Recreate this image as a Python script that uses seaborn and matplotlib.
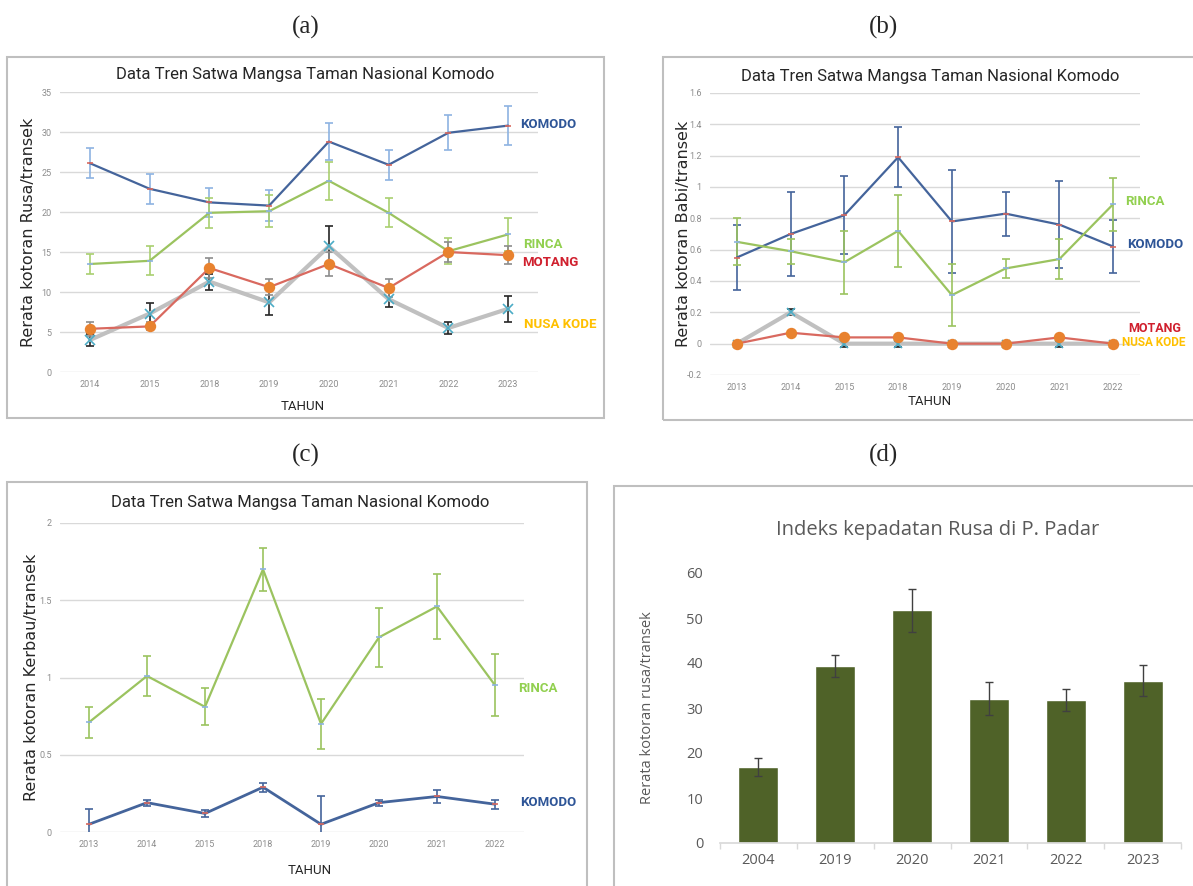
import seaborn as sns
import matplotlib.pyplot as plt
import matplotlib.patches as mpatches
import numpy as np
import pandas as pd

# ---- data ----
years_a = ["2014", "2015", "2018", "2019", "2020", "2021", "2022", "2023"]
komodo_a = [26.1, 22.9, 21.2, 20.8, 28.8, 25.9, 29.9, 30.8]
komodo_a_err = [1.9, 1.9, 1.8, 1.9, 2.3, 1.9, 2.2, 2.4]
rinca_a = [13.5, 13.9, 19.9, 20.1, 23.9, 19.9, 15.1, 17.2]
rinca_a_err = [1.2, 1.8, 1.9, 2.0, 2.4, 1.8, 1.6, 2.1]
motang_a = [5.4, 5.7, 13.0, 10.6, 13.5, 10.5, 15.0, 14.6]
motang_a_err = [0.9, 0.5, 1.2, 1.0, 1.5, 1.1, 1.3, 1.1]
nusakode_a = [4.0, 7.3, 11.3, 8.7, 15.7, 9.1, 5.5, 7.9]
nusakode_a_err = [0.7, 1.3, 1.0, 1.6, 2.6, 1.0, 0.8, 1.6]

years_b = ["2013", "2014", "2015", "2018", "2019", "2020", "2021", "2022"]
komodo_b = [0.55, 0.70, 0.82, 1.19, 0.78, 0.83, 0.76, 0.62]
komodo_b_err = [0.21, 0.27, 0.25, 0.19, 0.33, 0.14, 0.28, 0.17]
rinca_b = [0.65, 0.59, 0.52, 0.72, 0.31, 0.48, 0.54, 0.89]
rinca_b_err = [0.15, 0.08, 0.20, 0.23, 0.20, 0.06, 0.13, 0.17]
motang_b = [0.0, 0.07, 0.04, 0.04, 0.0, 0.0, 0.04, 0.0]
motang_b_err = [0.01, 0.01, 0.01, 0.01, 0.01, 0.01, 0.01, 0.01]
nusakode_b = [0.0, 0.20, 0.0, 0.0, 0.0, 0.0, 0.0, 0.0]
nusakode_b_err = [0.02, 0.02, 0.02, 0.02, 0.02, 0.02, 0.02, 0.02]

years_c = ["2013", "2014", "2015", "2018", "2019", "2020", "2021", "2022"]
rinca_c = [0.71, 1.01, 0.81, 1.70, 0.70, 1.26, 1.46, 0.95]
rinca_c_err = [0.10, 0.13, 0.12, 0.14, 0.16, 0.19, 0.21, 0.20]
komodo_c = [0.05, 0.19, 0.12, 0.29, 0.05, 0.19, 0.23, 0.18]
komodo_c_err = [0.10, 0.02, 0.02, 0.03, 0.18, 0.02, 0.04, 0.03]

years_d = ["2004", "2019", "2020", "2021", "2022", "2023"]
padar_d = [16.9, 39.3, 51.7, 32.1, 31.8, 36.1]
padar_d_err = [2.0, 2.5, 4.8, 3.6, 2.4, 3.5]

sns.set_theme(style="white")
plt.rcParams["font.family"] = ["Roboto", "DejaVu Sans"]

W, H = 1193, 886
fig = plt.figure(figsize=(W / 100, H / 100), dpi=100)


def px_axes(x0, y_top, x1, y_bot):
    return fig.add_axes([x0 / W, 1 - y_bot / H, (x1 - x0) / W, (y_bot - y_top) / H])


def frame(x0, y0, x1, y1):
    fig.patches.append(mpatches.Rectangle((x0 / W, 1 - y1 / H), (x1 - x0) / W, (y1 - y0) / H,
                                          transform=fig.transFigure, fill=False,
                                          edgecolor="#bfbfbf", lw=1.5))


def style_line_axes(ax, ylim, yticks, ylabel, ylfs=11.5):
    ax.set_ylim(*ylim)
    ax.set_xlim(-0.5, 7.5)
    ax.set_yticks(yticks)
    ax.set_yticklabels([f"{t:g}" for t in yticks])
    ax.grid(axis="y", color="#d9d9d9", lw=1)
    ax.grid(axis="x", visible=False)
    for s in ax.spines.values():
        s.set_visible(False)
    ax.tick_params(axis="both", labelsize=6.5, labelcolor="#8c8c8c", length=0, pad=6)
    ax.set_xlabel("")
    ax.set_ylabel(ylabel, fontsize=ylfs, family=["DejaVu Sans"], color="#262626")


def series(ax, years, vals, errs, lc, ec, marker, mc, ms, lw=1.6, mew=1.2, z=2):
    x = np.arange(len(years))
    ax.errorbar(x, vals, yerr=errs, fmt="none", ecolor=ec, elinewidth=1.2, capsize=3,
                capthick=1.2, zorder=z)
    sns.lineplot(x=x, y=vals, ax=ax, color=lc, lw=lw, marker=marker, markersize=ms,
                 markerfacecolor=mc, markeredgecolor=mc, markeredgewidth=mew, zorder=z + 0.5)


# ---- (a) ----
frame(7, 57, 604, 418)
ax = px_axes(60, 92, 538, 372)
series(ax, years_a, komodo_a, komodo_a_err, "#44649b", "#8db3e2", "_", "#d9695f", 5)
series(ax, years_a, rinca_a, rinca_a_err, "#9bc35f", "#a9cf6f", "_", "#8db3e2", 5)
series(ax, years_a, nusakode_a, nusakode_a_err, "#c0c0c0", "#262626", "x", "#4bacc6", 7, lw=3)
series(ax, years_a, motang_a, motang_a_err, "#d9695f", "#8c8c8c", "o", "#e8822f", 7)
style_line_axes(ax, (0, 35), [0, 5, 10, 15, 20, 25, 30, 35], "Rerata kotoran Rusa/transek")
ax.set_xticks(range(8))
ax.set_xticklabels(years_a)
ax.yaxis.set_label_coords(-0.05, 0.5)

# ---- (b) ----
frame(663, 57, 1200, 420)
bx = px_axes(710, 93, 1140, 375)
series(bx, years_b, komodo_b, komodo_b_err, "#44649b", "#44649b", "_", "#d9695f", 5)
series(bx, years_b, rinca_b, rinca_b_err, "#9bc35f", "#9bc35f", "_", "#8db3e2", 5)
series(bx, years_b, nusakode_b, nusakode_b_err, "#c0c0c0", "#262626", "x", "#4bacc6", 6, lw=3)
series(bx, years_b, motang_b, motang_b_err, "#d9695f", "#595959", "o", "#e8822f", 7)
style_line_axes(bx, (-0.2, 1.6), [-0.2, 0, 0.2, 0.4, 0.6, 0.8, 1, 1.2, 1.4, 1.6],
                "Rerata kotoran Babi/transek")
bx.set_xticks(range(8))
bx.set_xticklabels(years_b)
bx.yaxis.set_label_coords(-0.045, 0.5)

# ---- (c) ----
frame(7, 482, 587, 900)
cx = px_axes(60, 523, 524, 832)
series(cx, years_c, rinca_c, rinca_c_err, "#9bc35f", "#9bc35f", "_", "#8db3e2", 5)
series(cx, years_c, komodo_c, komodo_c_err, "#44649b", "#44649b", "_", "#d9695f", 5, lw=2)
style_line_axes(cx, (0, 2), [0, 0.5, 1, 1.5, 2], "Rerata kotoran Kerbau/transek")
cx.set_xticks(range(8))
cx.set_xticklabels(years_c)
cx.yaxis.set_label_coords(-0.045, 0.5)

# titles, axis labels and series labels of the line panels
tt = dict(fontsize=12, color="#262626", ha="center", va="center")
fig.text(305 / W, 1 - 75 / H, "Data Tren Satwa Mangsa Taman Nasional Komodo", **tt)
fig.text(930 / W, 1 - 76 / H, "Data Tren Satwa Mangsa Taman Nasional Komodo", **tt)
fig.text(300 / W, 1 - 502 / H, "Data Tren Satwa Mangsa Taman Nasional Komodo", **tt)
xt = dict(fontsize=9.5, color="#262626", ha="center", va="center")
fig.text(303 / W, 1 - 406 / H, "TAHUN", **xt)
fig.text(930 / W, 1 - 401 / H, "TAHUN", **xt)
fig.text(310 / W, 1 - 870 / H, "TAHUN", **xt)

lab = dict(fontweight="bold", ha="left", va="center")
for (x, y, s, c, fs) in [(520, 124, "KOMODO", "#2e5597", 9.5), (523, 245, "RINCA", "#92d050", 9.5),
                         (522, 262, "MOTANG", "#d0202e", 9.5), (524, 324, "NUSA KODE", "#ffc000", 9.5),
                         (1125, 201, "RINCA", "#92d050", 9.5), (1127, 244, "KOMODO", "#2e5597", 9.5),
                         (1128, 328, "MOTANG", "#d0202e", 9), (1122, 343, "NUSA KODE", "#ffc000", 8.5),
                         (518, 689, "RINCA", "#92d050", 9.5), (520, 803, "KOMODO", "#2e5597", 9.5)]:
    fig.text(x / W, 1 - y / H, s, color=c, fontsize=fs, **lab)

# ---- (d) ----
frame(614, 486, 1200, 900)
dx = px_axes(720, 573, 1181, 843)
sns.barplot(x=years_d, y=padar_d, color="#4f6228", saturation=1, width=0.52, ax=dx)
dx.errorbar(np.arange(len(years_d)), padar_d, yerr=padar_d_err, fmt="none",
            ecolor="#404040", elinewidth=1, capsize=3, capthick=1)
dx.set_ylim(0, 60)
dx.set_xlim(-0.5, 5.5)
dx.set_yticks([0, 10, 20, 30, 40, 50, 60])
for s in ["top", "right", "left"]:
    dx.spines[s].set_visible(False)
dx.spines["bottom"].set_color("#d9d9d9")
dx.set_xticks(np.arange(-0.5, 6, 1), minor=True)
dx.tick_params(axis="x", which="major", length=0, pad=7)
dx.tick_params(axis="x", which="minor", length=4, color="#d9d9d9", direction="out", bottom=True)
dx.tick_params(axis="both", labelsize=10.5, labelcolor="#595959")
dx.tick_params(axis="y", length=0, pad=12)
for t in dx.get_xticklabels() + dx.get_yticklabels():
    t.set_family(["Open Sans", "DejaVu Sans"])
dx.set_ylabel("Rerata kotoran rusa/transek", fontsize=10.5, color="#595959",
              family=["Open Sans", "DejaVu Sans"])
dx.yaxis.set_label_coords(-0.14, 0.5)
fig.text(938 / W, 1 - 530 / H, "Indeks kepadatan Rusa di P. Padar", fontsize=14.5,
         color="#595959", ha="center", va="center", family=["Open Sans", "DejaVu Sans"])

# panel letters
pl = dict(fontsize=18, family=["Liberation Serif", "DejaVu Serif"], ha="center", va="center")
fig.text(306 / W, 1 - 27 / H, "(a)", **pl)
fig.text(884 / W, 1 - 27 / H, "(b)", **pl)
fig.text(306 / W, 1 - 455 / H, "(c)", **pl)
fig.text(884 / W, 1 - 455 / H, "(d)", **pl)

plt.savefig("out.png", dpi=100)
